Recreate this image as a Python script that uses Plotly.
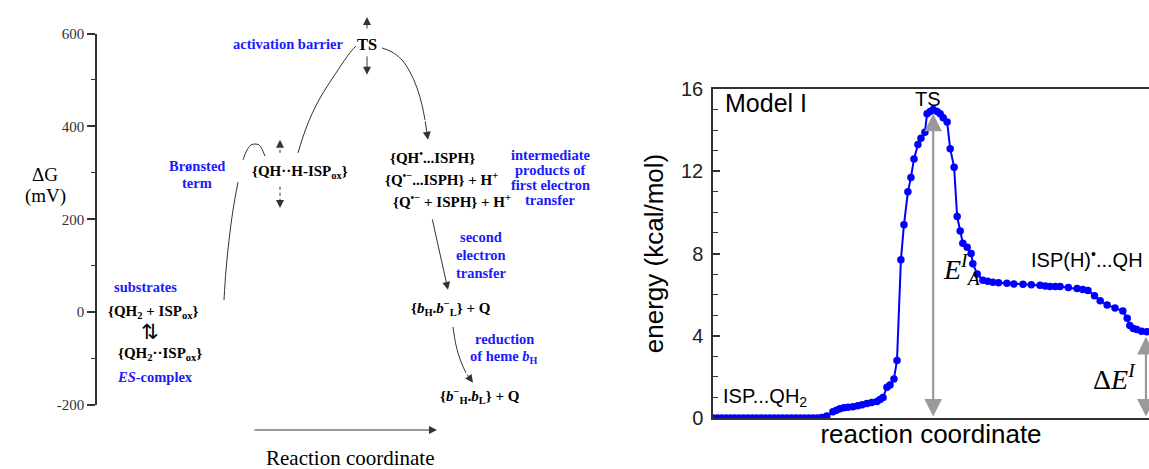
import plotly.graph_objects as go

W, H = 1149, 469
SERIF = "Liberation Serif"
SANS = "Liberation Sans"
BLUE_TXT = "#1a1aff"
LINE = "#333333"

# ---------------- right panel data (reaction coordinate, kcal/mol) ----------------
rc = [0, 1, 2, 3, 4, 5, 6, 7, 8, 9, 10, 11, 12, 13, 14, 15, 16, 17, 18, 19, 20, 21, 22, 23, 24,
      25.0, 26.1, 27.5, 28.3, 29.1, 30.0, 31.0, 32.1, 33.2, 34.2, 35.3, 36.4, 37.6, 38.3, 39.0,
      39.9, 40.6, 41.5, 42.2, 43.1, 43.8, 44.7, 45.4, 46.1, 47.0, 47.7, 48.6, 49.1, 49.8, 50.5,
      51.4, 52.1, 52.8, 53.7, 54.4, 55.3, 56.0, 56.7, 57.3, 58.3, 59.2, 59.6, 60.6, 61.9, 63.0,
      64.2, 65.5, 67.4, 69.0, 71.1, 73.0, 75.0, 76.2, 77.3, 78.5, 79.6, 81.5, 83.5, 84.8, 86.0,
      87.5, 88.8, 90.4, 92.2, 94.0, 95.0, 95.6, 96.4, 97.2, 98.3, 99.5, 100.5]
energy = [0, 0, 0, 0, 0, 0, 0, 0, 0, 0, 0, 0, 0, 0, 0, 0, 0, 0, 0, 0, 0, 0, 0, 0, 0,
          0.02, 0.1, 0.3, 0.38, 0.45, 0.5, 0.52, 0.55, 0.6, 0.65, 0.7, 0.75, 0.8, 0.9, 1.0,
          1.5, 1.6, 1.9, 2.8, 7.7, 9.4, 11.0, 11.7, 12.6, 13.3, 13.6, 13.9, 14.8, 14.9, 15.0,
          14.9, 14.8, 14.6, 14.4, 13.1, 12.2, 9.8, 9.1, 8.5, 8.3, 8.0, 7.5, 7.0, 6.7, 6.65,
          6.6, 6.58, 6.55, 6.52, 6.5, 6.48, 6.45, 6.42, 6.4, 6.4, 6.4, 6.35, 6.3, 6.25, 6.2,
          5.95, 5.7, 5.5, 5.35, 5.2, 4.85, 4.5, 4.35, 4.3, 4.22, 4.2, 4.18]
ts_rc, ts_energy = 50.5, 14.8
product_rc, product_energy = 99.3, 3.95

# ---------------- left panel schematic (x: horizontal position, y: mV) ----------------
left_ticks = [-200, 0, 200, 400, 600]
left_ticktext = ["-200", "0", "200", "400", "600"]
bronsted_x = [224, 226, 229, 233, 238]
bronsted_y = [26, 91, 155, 220, 280]
arc_x = [243, 247, 251, 255, 259, 262, 265]
arc_y = [328, 349, 360, 362, 360, 351, 336]
climb_x = [298, 305, 312, 320, 328, 336, 344, 352, 356]
climb_y = [343, 390, 427, 461, 489, 515, 541, 564, 573]
descend_x = [382, 392, 402, 410, 417, 422, 425]
descend_y = [569, 560, 543, 517, 483, 446, 414]
descend_tip = (428, 371)
second_x = [432, 448]
second_y = [203, 48]
reduce_x = [453, 456, 461, 466]
reduce_y = [-32, -71, -107, -131]
reduce_tip = (473, -152)

fig = go.Figure()

for xs, ys in [(bronsted_x, bronsted_y), (arc_x, arc_y), (climb_x, climb_y),
               (descend_x, descend_y), (reduce_x, reduce_y)]:
    fig.add_trace(go.Scatter(x=xs, y=ys, mode="lines", line=dict(color=LINE, width=1, shape="spline"),
                             xaxis="x", yaxis="y", showlegend=False, hoverinfo="skip"))
# dashed parts of the QH..H-ISP arrow
fig.add_trace(go.Scatter(x=[280, 280], y=[343, 362], mode="lines",
                         line=dict(color=LINE, width=1, dash="3px,3px"), xaxis="x", yaxis="y",
                         showlegend=False, hoverinfo="skip"))
fig.add_trace(go.Scatter(x=[280, 280], y=[270, 232], mode="lines",
                         line=dict(color=LINE, width=1, dash="3px,3px"), xaxis="x", yaxis="y",
                         showlegend=False, hoverinfo="skip"))

# right panel curve
fig.add_trace(go.Scatter(x=rc, y=energy, mode="lines+markers",
                         line=dict(color="#0000ff", width=2),
                         marker=dict(color="#0000ff", size=7.5),
                         xaxis="x2", yaxis="y2", showlegend=False, cliponaxis=True))

ann = []


def txt(x, y, text, size, color="black", xanchor="center", xref="x", yref="y", family=SERIF):
    ann.append(dict(x=x, y=y, xref=xref, yref=yref, text=text, showarrow=False,
                    xanchor=xanchor, yanchor="middle",
                    font=dict(family=family, size=size, color=color)))


def arrow(x0, y0, x1, y1, xref="x", yref="y", color=LINE, width=1, size=1.6, side="end"):
    d = dict(x=x1, y=y1, ax=x0, ay=y0, xref=xref, yref=yref, axref=xref, ayref=yref,
             showarrow=True, arrowhead=2, arrowsize=size, arrowwidth=width, arrowcolor=color,
             arrowside=side, text="", standoff=0, startstandoff=0)
    if "start" in side:
        d["startarrowhead"] = 2
        d["startarrowsize"] = size
    ann.append(d)


def paper_arrow(tip_px, dx, dy, color=LINE, width=1, size=1.6):
    # tip given in page pixels; tail offset (dx, dy) in pixels from the tip
    ann.append(dict(x=tip_px[0] / W, y=1 - tip_px[1] / H, xref="paper", yref="paper",
                    ax=dx, ay=dy, showarrow=True, arrowhead=2, arrowsize=size,
                    arrowwidth=width, arrowcolor=color, text="", standoff=0))


# left arrows
arrow(descend_x[-1], descend_y[-1], *descend_tip)
arrow(second_x[0], second_y[0], second_x[1], second_y[1])
arrow(reduce_x[-1], reduce_y[-1], *reduce_tip)
arrow(280, 360, 280, 371)
arrow(280, 234, 280, 224)
arrow(367, 554, 367, 511)
paper_arrow((367, 17), 0, 13)
paper_arrow((437, 430), -184, 0)

# left texts
B = lambda s: "<b>" + s + "</b>"
BS = 14.5   # blue label size
KS = 15     # black formula size
txt(288, 577, B("activation barrier"), BS, BLUE_TXT)
txt(367, 577, B("TS"), 16.5)
txt(197, 315, B("Brønsted"), BS, BLUE_TXT)
txt(197, 278, B("term"), BS, BLUE_TXT)
txt(250, 302, B("{QH··H-ISP<sub>ox</sub>}"), KS, xanchor="left")
txt(388, 334, B("{QH<sup>•</sup>...ISPH}"), KS, xanchor="left")
txt(383, 287, B("{Q<sup>•−</sup>...ISPH} + H<sup>+</sup>"), KS, xanchor="left")
txt(391, 239, B("{Q<sup>•−</sup> + ISPH} + H<sup>+</sup>"), KS, xanchor="left")
for yy, s in zip([338, 306, 274, 241], ["intermediate", "products of", "first electron", "transfer"]):
    txt(550, yy, B(s), BS, BLUE_TXT)
for yy, s in zip([162, 123, 84], ["second", "electron", "transfer"]):
    txt(481, yy, B(s), BS, BLUE_TXT)
txt(409, 9, B("{<i>b</i><sub>H</sub>.<i>b</i><sup>−</sup><sub>L</sub>} + Q"), KS, xanchor="left")
txt(504, -58, B("reduction"), BS, BLUE_TXT)
txt(504, -97, B("of heme <i>b</i><sub>H</sub>"), BS, BLUE_TXT)
txt(438, -181, B("{<i>b</i><sup>−</sup><sub>H</sub>.<i>b</i><sub>L</sub>} + Q"), KS, xanchor="left")
txt(145, 54, B("substrates"), BS, BLUE_TXT)
txt(106, 0, B("{QH<sub>2</sub> + ISP<sub>ox</sub>}"), KS, xanchor="left")
txt(150, -43, "⇅", 21, family="DejaVu Sans")
txt(116, -90, B("{QH<sub>2</sub>··ISP<sub>ox</sub>}"), KS, xanchor="left")
txt(155, -140, B("<i>ES</i>-complex"), BS, BLUE_TXT)
txt(45 / W, 1 - 175 / H, "ΔG", 19, xref="paper", yref="paper")
txt(45 / W, 1 - 196 / H, "(mV)", 19, xref="paper", yref="paper")
txt(350 / W, 1 - 458 / H, "Reaction coordinate", 21, xref="paper", yref="paper")

# right panel arrows and texts
GRAY = "#9a9a9a"
arrow(ts_rc, 0, ts_rc, ts_energy, xref="x2", yref="y2", color=GRAY, width=2.2, size=1.6,
      side="end+start")
arrow(product_rc, 0, product_rc, product_energy, xref="x2", yref="y2", color=GRAY, width=2.2,
      size=1.6, side="end+start")
txt(2.2, 15.3, "Model I", 25, xanchor="left", xref="x2", yref="y2", family=SANS)
txt(49.3, 15.5, "TS", 20, xref="x2", yref="y2", family=SANS)
txt(72.5, 7.75, "ISP(H)<sup>•</sup>...QH", 20, xanchor="left", xref="x2", yref="y2", family=SANS)
txt(1.8, 1.0, "ISP...QH<sub>2</sub>", 20, xanchor="left", xref="x2", yref="y2", family=SANS)
txt(52.3, 7.2, "<i>E</i><sup><i>I</i></sup><sub><i>A</i></sub>", 28, xanchor="left",
    xref="x2", yref="y2", family=SERIF)
txt(97.5, 1.95, "Δ<i>E</i><sup><i>I</i></sup>", 28, xanchor="right", xref="x2", yref="y2",
    family=SERIF)

fig.update_layout(
    width=W, height=H, margin=dict(l=0, r=0, t=0, b=0),
    paper_bgcolor="white", plot_bgcolor="white", showlegend=False,
    annotations=ann,
    xaxis=dict(domain=[97 / W, 600 / W], range=[97, 600], visible=False, anchor="y",
               automargin=False),
    yaxis=dict(domain=[1 - 405 / H, 1 - 33.5 / H], range=[-200, 600], anchor="x",
               tickvals=left_ticks, ticktext=left_ticktext, showline=True, linecolor=LINE,
               linewidth=1.5, ticks="outside", ticklen=8, tickwidth=1.5, tickcolor=LINE,
               minor=dict(tick0=0, dtick=100, ticks="outside", ticklen=4, tickcolor=LINE,
                          tickwidth=1.2, showgrid=False),
               tickfont=dict(family=SERIF, size=15, color="#333"), showgrid=False,
               zeroline=False, automargin=False),
    xaxis2=dict(domain=[713 / W, 1], range=[0, 100], anchor="y2", showline=True, mirror=True,
                linecolor=LINE, linewidth=1.5, ticks="", showticklabels=False, showgrid=False,
                zeroline=False, automargin=False,
                title=dict(text="reaction coordinate", standoff=6,
                           font=dict(family=SANS, size=26, color="black"))),
    yaxis2=dict(domain=[1 - 418 / H, 1 - 89 / H], range=[0, 16], anchor="x2",
                tick0=0, dtick=4, showline=True, linecolor=LINE, linewidth=1.5,
                ticks="inside", ticklen=7, tickwidth=1.5, tickcolor=LINE,
                minor=dict(tick0=0, dtick=1, ticks="inside", ticklen=5, tickcolor=LINE,
                           tickwidth=1.2, showgrid=False),
                tickfont=dict(family=SANS, size=20, color="#222"), ticklabelstandoff=4,
                showgrid=False, zeroline=False, automargin=False,
                title=dict(text="energy (kcal/mol)", standoff=10,
                           font=dict(family=SANS, size=26, color="black"))),
)

fig.write_html("out.html", config={"displayModeBar": False},
               post_script="document.body.style.margin='0px';document.body.style.overflow='hidden';")
